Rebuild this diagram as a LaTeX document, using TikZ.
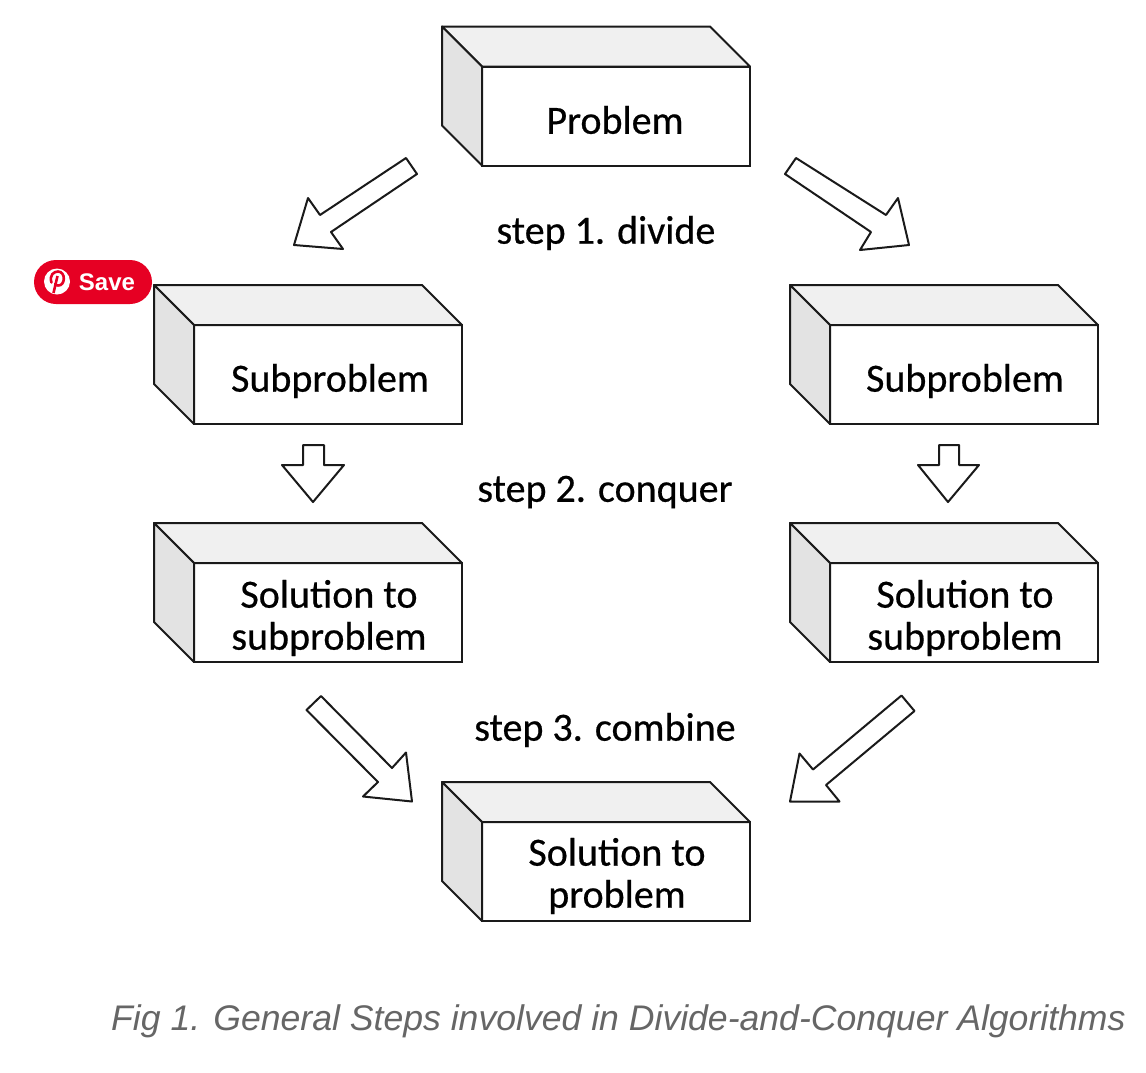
\documentclass[tikz,border=0pt]{standalone}
\usepackage{fontspec}
\setmainfont{Carlito}
\newfontfamily\lblfont[FakeBold=0.5]{Carlito}
\newfontfamily\capfont{Liberation Sans}
\definecolor{topface}{HTML}{F0F0F0}
\definecolor{sideface}{HTML}{E3E3E3}
\definecolor{pinred}{HTML}{E60023}
\definecolor{capgray}{HTML}{666666}
\definecolor{linecol}{HTML}{1A1A1A}
\tikzset{
  front/.style={draw=linecol,fill=white,line width=2pt,minimum width=268pt,minimum height=99pt,inner sep=0pt,outer sep=0pt},
  face/.style={draw=linecol,line width=2pt,line join=round},
  blockarrow/.style={draw=linecol,fill=white,line width=2pt,line join=round},
  lbl/.style={font=\lblfont\fontsize{40}{42}\selectfont,text=black,inner sep=0pt,align=center},
  steplbl/.style={font=\lblfont\fontsize{40}{42}\selectfont,text=black,inner sep=0pt},
}
\newcommand{\cuboid}[6]{%
  \node[front] (#1) at (#2,#3) {};
  \coordinate (#1tl) at (#2-174,#3-89.5);
  \coordinate (#1tr) at (#2+94,#3-89.5);
  \coordinate (#1bl) at (#2-174,#3+9.5);
  \draw[face,fill=topface] (#1tl) -- (#1tr) -- (#1.north east) -- (#1.north west) -- cycle;
  \draw[face,fill=sideface] (#1tl) -- (#1.north west) -- (#1.south west) -- (#1bl) -- cycle;
  \node[lbl] (#1t) at (#4,#5) {#6};
}
\begin{document}
\begin{tikzpicture}[x=1pt,y=-1pt]
\useasboundingbox (0,0) rectangle (1146,1072);
\cuboid{p}{616}{116}{615}{120}{Problem}
\cuboid{sa}{328}{374.5}{330}{381}{Subproblem}
\cuboid{sb}{964}{374.5}{965}{381}{Subproblem}
\cuboid{ra}{328}{612.5}{329}{618}{Solution to\\subproblem}
\cuboid{rb}{964}{612.5}{965}{618}{Solution to\\subproblem}
\cuboid{s}{616}{871.5}{617}{876}{Solution to\\problem}
% block arrows
\draw[blockarrow] (406,158) -- (417,174) -- (331,232) -- (343,249) -- (294,245) -- (308,198) -- (320,215) -- cycle;
\draw[blockarrow] (796,158) -- (785,174) -- (871,232) -- (860,250) -- (909,245) -- (898,198) -- (886,215) -- cycle;
\draw[blockarrow] (303,445) -- (324,445) -- (324,465) -- (344,465) -- (313,502) -- (282,465) -- (303,465) -- cycle;
\draw[blockarrow] (939,445) -- (959,445) -- (959,465) -- (979,465) -- (948,502) -- (918,465) -- (939,465) -- cycle;
\draw[blockarrow] (321,696) -- (306.5,710) -- (378,782) -- (363,796.5) -- (412,801.5) -- (406,752.5) -- (392,768) -- cycle;
\draw[blockarrow] (901.5,695.5) -- (914.5,711) -- (826,785) -- (839.5,801.5) -- (790,801.5) -- (799.5,753.5) -- (813,769.5) -- cycle;
% step labels
\node[steplbl] (st1) at (606,233) {step 1. divide};
\node[steplbl] (st2) at (605,492) {step 2. conquer};
\node[steplbl] (st3) at (605,730) {step 3. combine};
% save button
\node[fill=pinred,rounded corners=22pt,minimum width=118pt,minimum height=44pt,inner sep=0pt] (save) at (93,282) {};
\node[circle,fill=white,minimum size=26pt,inner sep=0pt] (pin) at (57,281.5) {};
\draw[pinred,line width=2.6pt,line cap=round] (51.5,282.5) .. controls (49,275) and (54,271.5) .. (58,271.5) .. controls (66,271.5) and (65.5,286) .. (58,285.5) .. controls (56.5,285.5) and (55.5,285) .. (55,284);
\draw[pinred,line width=2.6pt] (57.5,276) -- (53.5,293);
\node[text=white,font=\capfont\bfseries\fontsize{24}{24}\selectfont,inner sep=0pt] (savet) at (107,282) {Save};
% caption
\node[text=capgray,font=\capfont\itshape\fontsize{35.6}{38}\selectfont,inner sep=0pt,anchor=west] (cap) at (111,1021) {Fig 1. General Steps involved in Divide-and-Conquer Algorithms};
\end{tikzpicture}
\end{document}
